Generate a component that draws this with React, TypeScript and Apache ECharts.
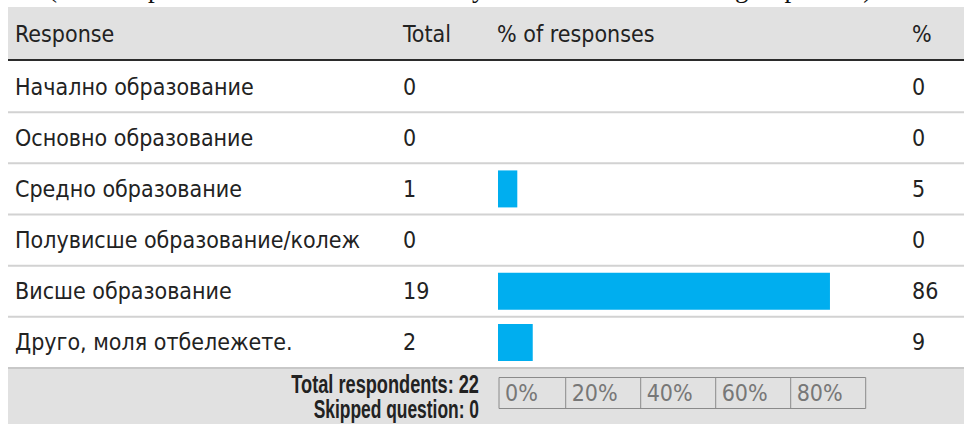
import React, { useEffect, useRef } from "react";
import * as echarts from "echarts";

const responses = [
  "Начално образование",
  "Основно образование",
  "Средно образование",
  "Полувисше образование/колеж",
  "Висше образование",
  "Друго, моля отбележете.",
];
const totals = [0, 0, 1, 0, 19, 2];
const percents = [0, 0, 5, 0, 86, 9];
const tickLabels = ["0%", "20%", "40%", "60%", "80%"];
const headers = ["Response", "Total", "% of responses", "%"];
const footerLines = ["Total respondents: 22", "Skipped question: 0"];
const topNote = "(Your response should be the last level you have reached in the group listed)";

const W = 967;
const H = 424;
const FONT = "'DejaVu Sans Condensed', 'DejaVu Sans', sans-serif";
const BOLD_FONT = "'Liberation Sans', Arial, sans-serif";
const FS = 23;
const tableLeft = 8;
const tableRight = 964;
const headerTop = 7;
const gridLeft = 498;
const gridTop = 61;
const gridW = 386;
const gridBottom = 368;
const colName = 15;
const colTotal = 403;
const colPct = 912;
const footerScale = [0.7, 0.67];

export default function App() {
  const ref = useRef<HTMLDivElement>(null);
  useEffect(() => {
    if (!ref.current) return;
    const chart = echarts.init(ref.current, null, { renderer: "svg" });
    const rowH = (gridBottom - gridTop) / responses.length;
    const g: any[] = [];
    // clipped note at top (only descenders visible in the reference)
    g.push({
      type: "text",
      x: 48,
      y: 1,
      style: {
        text: topNote,
        font: "27px 'Liberation Serif', serif",
        fill: "#111",
        textAlign: "left",
        textVerticalAlign: "bottom",
      },
    });
    // header background
    g.push({
      type: "rect",
      z: -10,
      shape: { x: tableLeft, y: headerTop, width: tableRight - tableLeft, height: gridTop - headerTop },
      style: { fill: "#e1e1e1" },
    });
    g.push({
      type: "line",
      shape: { x1: tableLeft, y1: gridTop - 1, x2: tableRight, y2: gridTop - 1 },
      style: { stroke: "#2b2b2b", lineWidth: 2 },
    });
    const headerX = [colName, colTotal, gridLeft - 1, colPct];
    headers.forEach((h, i) => {
      g.push({
        type: "text",
        x: headerX[i],
        y: 34,
        style: {
          text: h,
          fontSize: FS,
          fontFamily: FONT,
          fill: "#222",
          textAlign: "left",
          textVerticalAlign: "middle",
        },
      });
    });
    // row separators
    for (let i = 1; i < responses.length; i++) {
      const y = gridTop + i * rowH;
      g.push({
        type: "line",
        shape: { x1: tableLeft, y1: y, x2: tableRight, y2: y },
        style: { stroke: "#d2d2d2", lineWidth: 2 },
      });
    }
    // footer
    g.push({
      type: "rect",
      z: -10,
      shape: { x: tableLeft, y: gridBottom, width: tableRight - tableLeft, height: H - gridBottom + 20 },
      style: { fill: "#e1e1e1" },
    });
    g.push({
      type: "line",
      shape: { x1: tableLeft, y1: gridBottom, x2: tableRight, y2: gridBottom },
      style: { stroke: "#c8c8c8", lineWidth: 2 },
    });
    footerLines.forEach((t, i) => {
      g.push({
        type: "text",
        x: 479,
        y: 384 + i * 25,
        scaleX: footerScale[i],
        style: {
          text: t,
          fontSize: 26,
          fontWeight: "bold",
          fontFamily: BOLD_FONT,
          fill: "#222",
          textAlign: "right",
          textVerticalAlign: "middle",
        },
      });
    });
    // tick box
    const boxTop = 377.5;
    const boxH = 31;
    const boxRight = 865.7;
    const cellLefts = tickLabels.map((_, i) => (i === 0 ? 499 : 565.7 + (i - 1) * 75));
    g.push({
      type: "rect",
      shape: { x: cellLefts[0], y: boxTop, width: boxRight - cellLefts[0], height: boxH },
      style: { fill: "none", stroke: "#8a8a8a", lineWidth: 1 },
    });
    tickLabels.forEach((t, i) => {
      if (i > 0) {
        g.push({
          type: "line",
          shape: { x1: cellLefts[i], y1: boxTop, x2: cellLefts[i], y2: boxTop + boxH },
          style: { stroke: "#8a8a8a", lineWidth: 1 },
        });
      }
      g.push({
        type: "text",
        x: cellLefts[i] + 6,
        y: boxTop + boxH / 2,
        style: {
          text: t,
          fontSize: FS,
          fontFamily: FONT,
          fill: "#777",
          textAlign: "left",
          textVerticalAlign: "middle",
        },
      });
    });

    const baseY = {
      type: "category",
      data: responses,
      inverse: true,
      axisLine: { show: false },
      axisTick: { show: false },
      splitLine: { show: false },
    };
    chart.setOption({
      animation: false,
      grid: {
        left: gridLeft,
        top: gridTop,
        width: gridW,
        height: gridBottom - gridTop,
        containLabel: false,
        outerBoundsMode: "none",
      },
      xAxis: { type: "value", min: 0, max: 100, show: false },
      yAxis: [
        {
          ...baseY,
          position: "left",
          axisLabel: {
            align: "left",
            margin: gridLeft - colName,
            fontSize: FS,
            fontFamily: FONT,
            color: "#222",
          },
        },
        {
          ...baseY,
          position: "left",
          axisLabel: {
            align: "left",
            margin: gridLeft - colTotal,
            fontSize: FS,
            fontFamily: FONT,
            color: "#222",
            formatter: (_v: string, idx: number) => String(totals[idx]),
          },
        },
        {
          ...baseY,
          position: "right",
          axisLabel: {
            align: "left",
            margin: colPct - (gridLeft + gridW),
            fontSize: FS,
            fontFamily: FONT,
            color: "#222",
            formatter: (_v: string, idx: number) => String(percents[idx]),
          },
        },
      ],
      graphic: { elements: g },
      series: [
        {
          type: "bar",
          xAxisIndex: 0,
          yAxisIndex: 0,
          data: percents,
          barWidth: 37,
          itemStyle: { color: "#00aeef" },
          silent: true,
        },
      ],
    });
    return () => chart.dispose();
  }, []);
  return (
    <div
      ref={ref}
      style={{ position: "fixed", left: 0, top: 0, width: W, height: H, background: "#fff" }}
    />
  );
}
